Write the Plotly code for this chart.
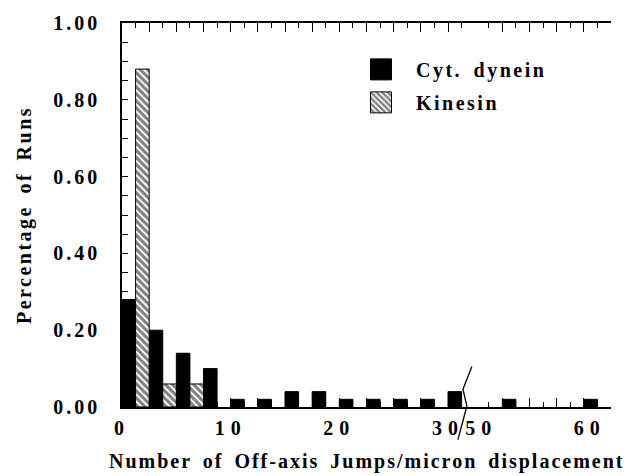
import plotly.graph_objects as go

# Histogram bins (start of each 2.5-wide bin); the axis is broken between 32.5 and 50
bin_starts = [0, 2.5, 5, 7.5, 10, 12.5, 15, 17.5, 20, 22.5, 25, 27.5, 30,
              50, 52.5, 55, 57.5, 60]
dynein = [0.28, 0.20, 0.14, 0.10, 0.02, 0.02, 0.04, 0.04, 0.02, 0.02, 0.02, 0.02, 0.04,
          0.00, 0.02, 0.00, 0.00, 0.02]
kinesin = [0.88, 0.06, 0.06, 0.00, 0.00, 0.00, 0.00, 0.00, 0.00, 0.00, 0.00, 0.00, 0.00,
           0.00, 0.00, 0.00, 0.00, 0.00]
bin_width = 2.5

# Two pieces of the broken x axis: (low, high, axis id)
segments = [(0, 32.5, "x"), (50, 62.5, "x2")]
x_labels = [0, 10, 20, 30, 50, 60]
y_labels = [0.0, 0.2, 0.4, 0.6, 0.8, 1.0]

FONT = "Liberation Serif, Times New Roman, Times, serif"
tick_font = dict(family=FONT, size=20, color="black", weight="bold")

fig = go.Figure()
for lo, hi, ax in segments:
    idx = [i for i, s in enumerate(bin_starts) if lo <= s < hi]
    d_idx = [i for i in idx if dynein[i] > 0]
    k_idx = [i for i in idx if kinesin[i] > 0]
    fig.add_trace(go.Bar(
        x=[bin_starts[i] for i in d_idx], y=[dynein[i] for i in d_idx],
        width=bin_width / 2, offset=0, xaxis=ax, yaxis="y",
        marker=dict(color="black", line=dict(color="black", width=1)),
        name="Cyt. dynein", legendgroup="d", showlegend=(ax == "x"),
    ))
    fig.add_trace(go.Bar(
        x=[bin_starts[i] for i in k_idx], y=[kinesin[i] for i in k_idx],
        width=bin_width / 2, offset=bin_width / 2, xaxis=ax, yaxis="y",
        marker=dict(color="white", line=dict(color="black", width=1),
                    pattern=dict(shape="\\", fgcolor="black", bgcolor="white",
                                 size=5, solidity=0.6)),
        name="Kinesin", legendgroup="k", showlegend=(ax == "x"),
    ))


def x_axis(lo, hi, domain, shift=0):
    vals, v = [], lo
    while v <= hi + 1e-9:
        vals.append(v)
        v += bin_width
    text = [str(int(v)) if any(abs(v - L) < 1e-9 for L in x_labels) else "" for v in vals]
    return dict(
        domain=domain, range=[lo, hi], anchor="y",
        showline=True, linecolor="black", linewidth=1.5, mirror="ticks",
        ticks="inside", ticklen=9, tickwidth=1, tickcolor="black",
        tickmode="array", tickvals=vals, ticktext=text,
        minor=dict(dtick=bin_width / 2, tick0=lo, ticks="inside", ticklen=5,
                   tickcolor="black", showgrid=False),
        showgrid=False, zeroline=False, tickfont=tick_font, ticklabelstandoff=2,
        ticklabelshift=shift,
    )


n_left = 13
n_total = 18
fig.update_layout(
    width=629, height=476,
    margin=dict(l=122, r=18, t=18, b=69),
    paper_bgcolor="white", plot_bgcolor="white",
    barmode="overlay",
    xaxis=x_axis(0, 32.5, [0, n_left / n_total]),
    xaxis2=x_axis(50, 62.5, [n_left / n_total, 1], shift=6),
    yaxis=dict(
        range=[0, 1], anchor="x", showline=True, linecolor="black", linewidth=1.5,
        ticks="inside", ticklen=6, tickcolor="black",
        tickmode="array", tickvals=y_labels, ticktext=[f"{v:.2f}" for v in y_labels],
        minor=dict(dtick=0.05, ticks="inside", ticklen=6, tickcolor="black", showgrid=False),
        showgrid=False, zeroline=False, tickfont=tick_font, ticklabelstandoff=16,
        title=dict(text="Percentage of Runs",
                   font=dict(family=FONT, size=20, color="black", weight="bold"),
                   standoff=28),
    ),
    yaxis2=dict(
        range=[0, 1], overlaying="y", anchor="x2", side="right",
        showline=True, linecolor="black", linewidth=1.5,
        ticks="inside", ticklen=6, tickcolor="black", dtick=0.2,
        minor=dict(dtick=0.05, ticks="inside", ticklen=6, tickcolor="black", showgrid=False),
        showticklabels=False, showgrid=False, zeroline=False,
    ),
    legend=dict(x=0.458, y=0.93, xanchor="left", yanchor="top",
                bgcolor="rgba(0,0,0,0)", itemwidth=60, tracegroupgap=4,
                font=dict(family=FONT, size=20, color="black", weight="bold")),
    annotations=[dict(
        text="Number of Off-axis Jumps/micron displacement",
        xref="paper", yref="paper", x=0.5, y=-0.141, xanchor="center", yanchor="middle",
        showarrow=False, font=dict(family=FONT, size=20, color="black", weight="bold"),
    )],
    shapes=[dict(
        type="path", xref="paper", yref="paper",
        path="M 0.7155,0.1054 L 0.6972,0.0463 L 0.7053,0.0026 L 0.6951,-0.0463 L 0.6869,-0.0848",
        line=dict(color="black", width=1.3),
    )],
)

post = """
var gd = document.getElementById('{plot_id}');
function sp(sel, ls, ws) {
  gd.querySelectorAll(sel).forEach(function(t){
    t.style.letterSpacing = ls; if (ws) t.style.wordSpacing = ws;
  });
}
sp('.xtick text, .x2tick text', '6px');
sp('.ytick text', '3px');
sp('.ytitle', '2.5px', '4px');
sp('.annotation-text', '2px', '4px');
sp('.legendtext', '2.5px', '4px');
gd.querySelectorAll('.legend [clip-path]').forEach(function(e){ e.removeAttribute('clip-path'); });
gd.querySelectorAll('.legend .legendpoints path').forEach(function(p){
  p.setAttribute('d', 'M10.5,10.5H-10.5V-10.5H10.5Z');
});
"""

fig.write_html("out.html", config=dict(displayModeBar=False), post_script=post)
